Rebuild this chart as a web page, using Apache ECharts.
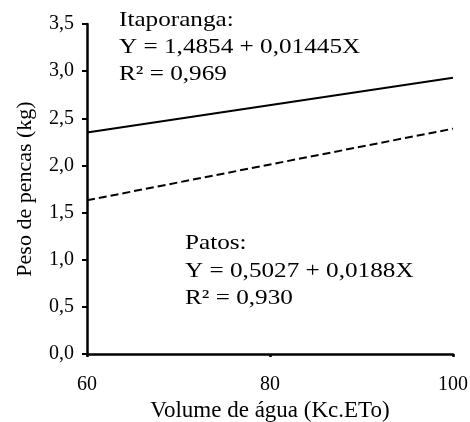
<!DOCTYPE html>
<html>
<head>
<meta charset="utf-8">
<script src="https://cdn.jsdelivr.net/npm/echarts@6/dist/echarts.min.js"></script>
<style>html,body{margin:0;padding:0;background:#fff;}#c{width:470px;height:422px;}</style>
</head>
<body>
<div id="c"></div>
<script>
const xValues = [60, 100];
const itaporanga = [2.35, 2.93];
const patos = [1.63, 2.39];
const itaText = ['Itaporanga:', 'Y = 1,4854 + 0,01445X', 'R² = 0,969'];
const patosText = ['Patos:', 'Y = 0,5027 + 0,0188X', 'R² = 0,930'];
const xTitle = 'Volume de água (Kc.ETo)';
const yTitle = 'Peso de pencas (kg)';

const FONT = '"Liberation Serif", "Times New Roman", serif';
const chart = echarts.init(document.getElementById('c'), null, {renderer: 'canvas'});

function textLines(lines, x, yStart, step) {
  return lines.map((t, i) => ({
    type: 'text', x: x, y: yStart + i * step, scaleX: 1.2,
    style: {text: t, fontFamily: FONT, fontSize: 21, fill: '#000', verticalAlign: 'top'}
  }));
}

chart.setOption({
  animation: false,
  backgroundColor: '#fff',
  grid: {left: 87, right: 17, top: 24, bottom: 68, containLabel: false, outerBoundsMode: 'none'},
  xAxis: {
    type: 'value', min: 60, max: 100, interval: 20,
    name: xTitle, nameLocation: 'middle', nameGap: 45,
    nameTextStyle: {fontFamily: FONT, fontSize: 23, color: '#000'},
    axisLine: {onZero: false, lineStyle: {color: '#000', width: 2.5}},
    axisTick: {show: true, inside: false, length: 3, lineStyle: {color: '#000', width: 2.5}},
    axisLabel: {fontFamily: FONT, fontSize: 20, color: '#000', margin: 21},
    splitLine: {show: false}
  },
  yAxis: {
    type: 'value', min: 0, max: 3.5, interval: 0.5,
    name: yTitle, nameLocation: 'middle', nameGap: 51,
    nameTextStyle: {fontFamily: FONT, fontSize: 22, color: '#000'},
    axisLine: {show: true, onZero: false, lineStyle: {color: '#000', width: 2.5}},
    axisTick: {show: true, length: 5, lineStyle: {color: '#000', width: 2}},
    axisLabel: {fontFamily: FONT, fontSize: 20, color: '#000', margin: 13,
      formatter: v => v.toFixed(1).replace('.', ',')},
    splitLine: {show: false}
  },
  series: [
    {type: 'line', data: xValues.map((x, i) => [x, itaporanga[i]]), symbol: 'none',
      lineStyle: {color: '#000', width: 2, type: 'solid'}},
    {type: 'line', data: xValues.map((x, i) => [x, patos[i]]), symbol: 'none',
      lineStyle: {color: '#000', width: 2, type: [8, 4]}}
  ],
  graphic: [
    ...textLines(itaText, 119, 10, 27),
    ...textLines(patosText, 185, 233, 27.5)
  ]
});
</script>
</body>
</html>
